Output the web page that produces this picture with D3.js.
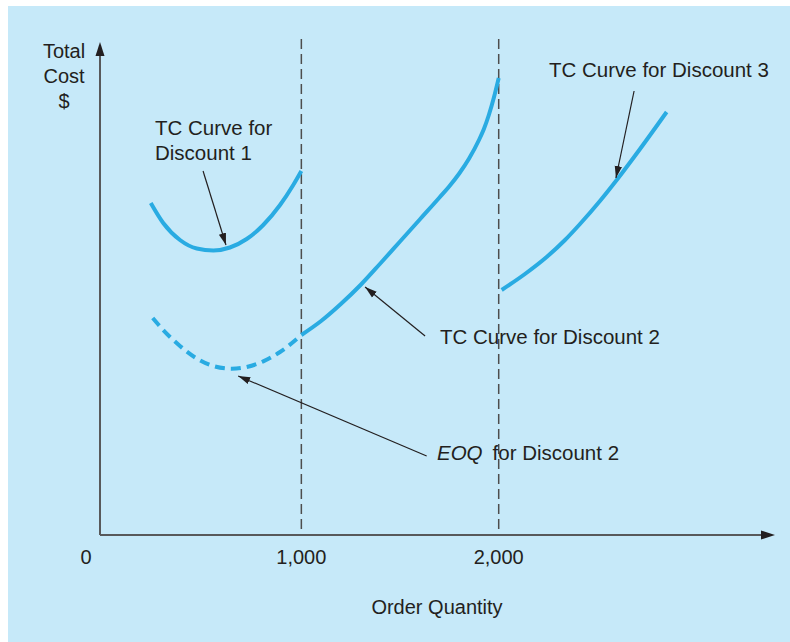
<!DOCTYPE html>
<html>
<head>
<meta charset="utf-8">
<script src="https://cdn.jsdelivr.net/npm/d3@7"></script>
<style>
  html, body { margin: 0; padding: 0; background: #ffffff; }
  svg { display: block; }
  text { font-family: "Liberation Sans", Arial, Helvetica, sans-serif; fill: #231f20; }
</style>
</head>
<body>
<script>
// ---------- DATA ----------
const tickValues = [0, 1000, 2000];
const tickLabels = ["0", "1,000", "2,000"];
const breakPoints = [1000, 2000];

// TC curve for Discount 1 (order quantity, total cost)
const d1Qty  = [237, 300, 385, 470, 554, 638, 723, 807, 892, 959, 1000];
const d1Cost = [332, 312, 295, 286.5, 284.5, 287.5, 296, 310, 330, 350, 364];

// TC curve for Discount 2, infeasible (dashed) part
const d2DashQty  = [247, 300, 385, 470, 554, 647, 723, 807, 892, 1000];
const d2DashCost = [217, 205, 189, 176.5, 169, 166.3, 168, 173.6, 183, 200];

// TC curve for Discount 2, feasible (solid) part
const d2Qty  = [1000, 1100, 1200, 1300, 1400, 1500, 1600, 1700, 1750, 1800, 1850, 1900, 1925, 1950, 1975, 2000];
const d2Cost = [200, 214, 231, 250, 271.5, 293.5, 315.5, 337.5, 348.8, 361.5, 376.5, 395, 406, 420, 437, 457];

// TC curve for Discount 3
const d3Qty  = [2015, 2133, 2243, 2336, 2412, 2513, 2598, 2716, 2851];
const d3Cost = [245, 261, 278, 295, 311, 334, 355, 386, 423];

// Annotation labels
const yAxisLabel = ["Total", "Cost", "$"];
const xAxisLabel = "Order Quantity";
const labelD1 = ["TC Curve for", "Discount 1"];
const labelD2 = "TC Curve for Discount 2";
const labelD3 = "TC Curve for Discount 3";
const labelEOQ = ["EOQ", "for Discount 2"];

// Annotation arrows in data space: [fromQty, fromCost, toQty, toCost]
const arrowD1  = [502, 364, 618, 290];
const arrowD2  = [1627, 199, 1323, 248];
const arrowD3  = [2686, 444, 2594, 357];
const arrowEOQ = [1635, 79, 680, 159];

// ---------- LAYOUT ----------
const W = 790, H = 642;
const svg = d3.select("body").append("svg").attr("width", W).attr("height", H);

svg.append("rect").attr("x", 8).attr("y", 6).attr("width", W - 8).attr("height", H - 6)
  .attr("fill", "#c6e9f9");

const x = d3.scaleLinear().domain([0, 2000]).range([104, 498.7]);
const y = d3.scaleLinear().domain([0, 500]).range([535, 35]);

const axisX0 = 100, axisY0 = 535, axisXEnd = 775, axisYEnd = 42;

// defs
const defs = svg.append("defs");
defs.append("marker").attr("id", "ann").attr("viewBox", "0 0 12 10")
  .attr("refX", 12).attr("refY", 5).attr("markerWidth", 12).attr("markerHeight", 10)
  .attr("markerUnits", "userSpaceOnUse").attr("orient", "auto")
  .append("path").attr("d", "M0,1.3 L12,5 L0,8.7 Z").attr("fill", "#231f20");

// dashed vertical lines at price breaks
svg.selectAll("line.brk").data(breakPoints).enter().append("line")
  .attr("class", "brk")
  .attr("x1", d => x(d)).attr("x2", d => x(d))
  .attr("y1", 39).attr("y2", axisY0)
  .attr("stroke", "#4d4d4d").attr("stroke-width", 1.5)
  .attr("stroke-dasharray", "10,5");

// axes
svg.append("line").attr("x1", axisX0).attr("y1", axisY0).attr("x2", axisXEnd - 10).attr("y2", axisY0)
  .attr("stroke", "#58595b").attr("stroke-width", 2);
svg.append("line").attr("x1", axisX0).attr("y1", axisY0).attr("x2", axisX0).attr("y2", axisYEnd + 10)
  .attr("stroke", "#58595b").attr("stroke-width", 2);
svg.append("path")
  .attr("d", `M${axisX0},${axisYEnd} L${axisX0 - 4.5},${axisYEnd + 14} L${axisX0 + 4.5},${axisYEnd + 14} Z`)
  .attr("fill", "#231f20");
svg.append("path")
  .attr("d", `M${axisXEnd},${axisY0} L${axisXEnd - 14},${axisY0 - 4.5} L${axisXEnd - 14},${axisY0 + 4.5} Z`)
  .attr("fill", "#231f20");

// tick labels
svg.selectAll("text.tick").data(tickValues).enter().append("text")
  .attr("class", "tick")
  .attr("x", (d, i) => x(d) + (i === 0 ? -18 : 0))
  .attr("y", 564)
  .attr("text-anchor", "middle")
  .attr("font-size", 20)
  .text((d, i) => tickLabels[i]);

svg.append("text").attr("x", 437).attr("y", 614).attr("text-anchor", "middle")
  .attr("font-size", 20).text(xAxisLabel);

svg.selectAll("text.ylab").data(yAxisLabel).enter().append("text")
  .attr("class", "ylab")
  .attr("x", 64).attr("y", (d, i) => 58 + i * 25)
  .attr("text-anchor", "middle").attr("font-size", 20).text(d => d);

// curves
const line = d3.line().x(d => x(d[0])).y(d => y(d[1])).curve(d3.curveMonotoneX);
const zip = (a, b) => a.map((v, i) => [v, b[i]]);
const curveColor = "#29abe2";

svg.append("path").datum(zip(d1Qty, d1Cost)).attr("d", line)
  .attr("fill", "none").attr("stroke", curveColor).attr("stroke-width", 4);
svg.append("path").datum(zip(d2DashQty, d2DashCost)).attr("d", line)
  .attr("fill", "none").attr("stroke", curveColor).attr("stroke-width", 4)
  .attr("stroke-dasharray", "10,6");
svg.append("path").datum(zip(d2Qty, d2Cost)).attr("d", line)
  .attr("fill", "none").attr("stroke", curveColor).attr("stroke-width", 4);
svg.append("path").datum(zip(d3Qty, d3Cost)).attr("d", line)
  .attr("fill", "none").attr("stroke", curveColor).attr("stroke-width", 4);

// annotation arrows
[arrowD1, arrowD2, arrowD3, arrowEOQ].forEach(a => {
  svg.append("line")
    .attr("x1", x(a[0])).attr("y1", y(a[1])).attr("x2", x(a[2])).attr("y2", y(a[3]))
    .attr("stroke", "#231f20").attr("stroke-width", 1.2)
    .attr("marker-end", "url(#ann)");
});

// annotation texts
svg.selectAll("text.l1").data(labelD1).enter().append("text")
  .attr("class", "l1").attr("x", 155).attr("y", (d, i) => 135 + i * 25)
  .attr("font-size", 20.5).text(d => d);
svg.append("text").attr("x", 440).attr("y", 344).attr("font-size", 20.5).text(labelD2);
svg.append("text").attr("x", 549).attr("y", 77).attr("font-size", 20.5).text(labelD3);
const eoq = svg.append("text").attr("x", 437).attr("y", 460).attr("font-size", 20.5);
eoq.append("tspan").attr("font-style", "italic").text(labelEOQ[0]);
eoq.append("tspan").attr("dx", 10).text(labelEOQ[1]);
</script>
</body>
</html>
